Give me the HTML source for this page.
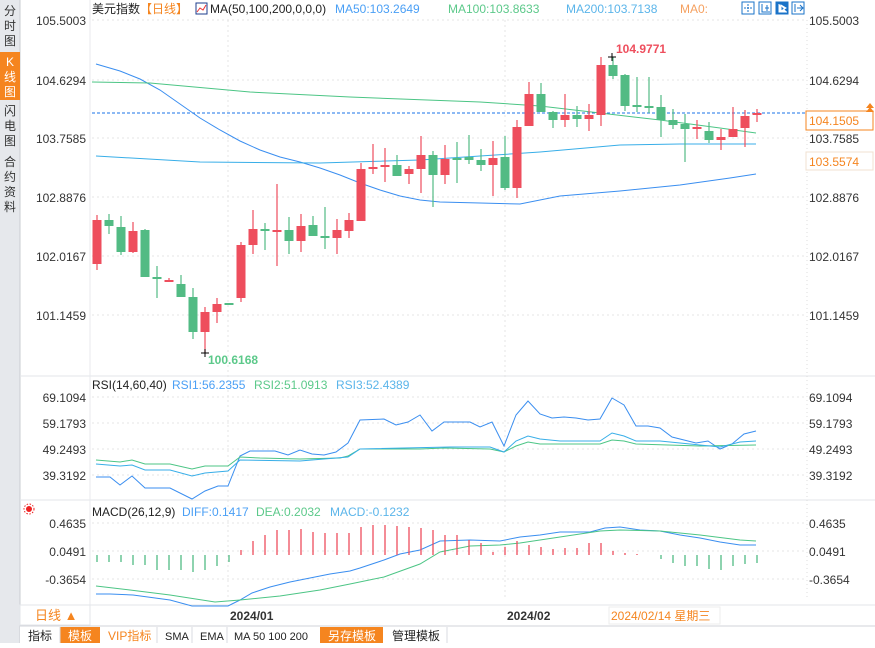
<!DOCTYPE html>
<html><head><meta charset="utf-8"><style>
body{margin:0;width:875px;height:643px;overflow:hidden;background:#fff;font-family:"Liberation Sans","Noto Sans CJK SC",sans-serif;}
svg text{font-family:"Liberation Sans","Noto Sans CJK SC",sans-serif;}
</style></head><body>
<svg id="s" width="875" height="643" xmlns="http://www.w3.org/2000/svg" font-size="12">
<rect x="0" y="0" width="20" height="643" fill="#e6e8ec"/>
<line x1="20" y1="0" x2="20" y2="643" stroke="#c9ccd2"/>
<rect x="0" y="52" width="20" height="48" fill="#f5851f"/>
<g font-size="12" fill="#333" text-anchor="middle">
<text x="10" y="15">分</text><text x="10" y="30">时</text><text x="10" y="45">图</text>
<text x="10" y="66" fill="#fff">K</text><text x="10" y="81" fill="#fff">线</text><text x="10" y="96" fill="#fff">图</text>
<text x="10" y="115">闪</text><text x="10" y="130">电</text><text x="10" y="145">图</text>
<text x="10" y="166">合</text><text x="10" y="181">约</text><text x="10" y="196">资</text><text x="10" y="211">料</text>
</g>
<line x1="20" y1="376" x2="875" y2="376" stroke="#e3e6ea"/>
<line x1="20" y1="500" x2="875" y2="500" stroke="#e3e6ea"/>
<line x1="20" y1="605" x2="875" y2="605" stroke="#e3e6ea"/>
<line x1="90" y1="0" x2="90" y2="625" stroke="#e8eaee"/>
<line x1="807" y1="20" x2="807" y2="600" stroke="#ddd" stroke-dasharray="1,3"/>
<g stroke="#e4e4e4" stroke-dasharray="2,3">
<line x1="92" y1="20" x2="805" y2="20"/><line x1="92" y1="80" x2="805" y2="80"/><line x1="92" y1="138" x2="805" y2="138"/><line x1="92" y1="197" x2="805" y2="197"/><line x1="92" y1="256" x2="805" y2="256"/><line x1="92" y1="315" x2="805" y2="315"/>
<line x1="92" y1="397" x2="805" y2="397"/><line x1="92" y1="423" x2="805" y2="423"/><line x1="92" y1="449" x2="805" y2="449"/><line x1="92" y1="475" x2="805" y2="475"/>
<line x1="92" y1="523" x2="805" y2="523"/><line x1="92" y1="551" x2="805" y2="551"/><line x1="92" y1="579" x2="805" y2="579"/>
<line x1="228" y1="20" x2="228" y2="600"/><line x1="505" y1="20" x2="505" y2="600"/>
</g>
<g fill="#333" text-anchor="end" font-size="12">
<text x="86" y="25">105.5003</text><text x="86" y="85">104.6294</text><text x="86" y="143">103.7585</text><text x="86" y="202">102.8876</text><text x="86" y="261">102.0167</text><text x="86" y="320">101.1459</text>
<text x="86" y="402">69.1094</text><text x="86" y="428">59.1793</text><text x="86" y="454">49.2493</text><text x="86" y="480">39.3192</text>
<text x="86" y="528">0.4635</text><text x="86" y="556">0.0491</text><text x="86" y="584">-0.3654</text>
</g>
<g fill="#333" font-size="12">
<text x="809" y="25">105.5003</text><text x="809" y="85">104.6294</text><text x="809" y="143">103.7585</text><text x="809" y="202">102.8876</text><text x="809" y="261">102.0167</text><text x="809" y="320">101.1459</text>
<text x="809" y="402">69.1094</text><text x="809" y="428">59.1793</text><text x="809" y="454">49.2493</text><text x="809" y="480">39.3192</text>
<text x="809" y="528">0.4635</text><text x="809" y="556">0.0491</text><text x="809" y="584">-0.3654</text>
</g>
<rect x="806" y="111" width="67" height="19" fill="#fff" stroke="#f5851f"/>
<text x="809" y="125" fill="#f5851f">104.1505</text>
<rect x="806" y="152" width="67" height="18" fill="#fff" stroke="#f0e0d0"/>
<text x="809" y="166" fill="#f5851f">103.5574</text>
<path d="M866,108 l4,-5 l4,5 z M866,112 l4,-5 l4,5 z" fill="#f5851f"/>
<text x="92" y="13" fill="#222">美元指数</text>
<text x="140" y="13" fill="#f5851f">【日线】</text>
<rect x="196" y="3" width="11" height="11" fill="#fff" stroke="#1c3c8c"/>
<path d="M197,12 l3,-4 l3,2 l3,-5" stroke="#e33" fill="none"/>
<text x="210" y="13" fill="#222">MA(50,100,200,0,0,0)</text>
<text x="335" y="13" fill="#4a9ff5">MA50:103.2649</text>
<text x="448" y="13" fill="#5cc98a">MA100:103.8633</text>
<text x="566" y="13" fill="#5bb5ea">MA200:103.7138</text>
<text x="680" y="13" fill="#f5a05f">MA0:</text>
<g fill="none" stroke="#1a73c8">
<rect x="742" y="2" width="12" height="12"/><rect x="759" y="2" width="12" height="12"/><rect x="776" y="2" width="12" height="12" fill="#1a73c8"/><rect x="792" y="2" width="12" height="12"/>
</g>
<path d="M748,4 v8 M744,8 h8" stroke="#1a73c8" stroke-dasharray="2,1"/>
<path d="M762,4 v8 h8 M767,5 v6 M765,8 h4" stroke="#1a73c8" fill="none"/>
<path d="M779,4 v8 h8 M781,5 l5,3 l-5,3 z" stroke="#fff" fill="#fff"/>
<path d="M795,4 v8 M797,8 h6 M800,5 l3,3 l-3,3" stroke="#1a73c8" fill="none"/>
<text x="92" y="389" fill="#222">RSI(14,60,40)</text>
<text x="172" y="389" fill="#4a9ff5">RSI1:56.2355</text>
<text x="254" y="389" fill="#5cc98a">RSI2:51.0913</text>
<text x="336" y="389" fill="#5bb5ea">RSI3:52.4389</text>
<text x="92" y="516" fill="#222">MACD(26,12,9)</text>
<text x="182" y="516" fill="#4a9ff5">DIFF:0.1417</text>
<text x="256" y="516" fill="#5cc98a">DEA:0.2032</text>
<text x="330" y="516" fill="#5bb5ea">MACD:-0.1232</text>
<circle cx="29" cy="509" r="3" fill="#e22"/><circle cx="29" cy="509" r="5" fill="none" stroke="#e22" stroke-dasharray="1.5,1.5"/>
<rect x="20" y="605" width="70" height="20" fill="#fff" stroke="#e3e6ea"/>
<text x="35" y="620" fill="#f5851f" font-size="13">日线 ▲</text>
<text x="230" y="620" fill="#333" font-weight="bold">2024/01</text>
<text x="507" y="620" fill="#333" font-weight="bold">2024/02</text>
<rect x="609" y="607" width="111" height="17" fill="#fff" stroke="#eee"/>
<text x="611" y="620" fill="#f5851f">2024/02/14 星期三</text>
<rect x="20" y="626" width="855" height="17" fill="#fff"/>
<line x1="20" y1="626" x2="875" y2="626" stroke="#d0d3d8"/>
<rect x="60" y="627" width="40" height="16" fill="#f5851f"/>
<rect x="320" y="627" width="63" height="16" fill="#f5851f"/>
<g font-size="12">
<text x="28" y="640" fill="#222">指标</text>
<text x="68" y="640" fill="#fff">模板</text>
<text x="108" y="640" fill="#f5851f">VIP指标</text>
<text x="165" y="640" fill="#222" font-size="11">SMA</text>
<text x="200" y="640" fill="#222" font-size="11">EMA</text>
<text x="234" y="640" fill="#222" font-size="11">MA 50 100 200</text>
<text x="328" y="640" fill="#fff">另存模板</text>
<text x="392" y="640" fill="#222">管理模板</text>
</g>
<g stroke="#d8dbe0"><line x1="60" y1="627" x2="60" y2="643"/><line x1="157" y1="627" x2="157" y2="643"/><line x1="192" y1="627" x2="192" y2="643"/><line x1="227" y1="627" x2="227" y2="643"/><line x1="447" y1="627" x2="447" y2="643"/></g>
<line x1="92" y1="113" x2="805" y2="113" stroke="#1a73e8" stroke-dasharray="3,2"/>
<polyline fill="none" stroke="#3a8ef0" points="96,64 120,71 140,79 160,90 180,104 200,118 220,130 240,141 260,150 280,157 300,162 320,168 340,175 360,183 380,190 400,196 420,200 440,202 480,203 520,204 560,196 620,191 680,185 730,178 756,174"/>
<polyline fill="none" stroke="#4cc585" points="92,82 150,83 250,92 350,97 480,102 540,106 600,113 660,120 720,128 756,133"/>
<polyline fill="none" stroke="#38aee8" points="96,156 200,162 320,163 420,160 480,156 540,152 620,145 680,144 756,144"/>
<polyline fill="none" stroke="#3a8ef0" points="96,477 110,477 120,485 132,476 145,488 170,488 192,499 205,491 218,486 228,486 240,456 250,451 275,451 288,455 300,450 312,454 324,455 336,452 348,443 360,420 384,419 396,425 408,422 420,415 432,431 444,422 470,422 480,427 492,422 504,446 516,415 528,401 540,414 552,418 564,417 576,418 588,420 600,419 612,398 624,405 636,426 648,426 660,428 672,437 684,440 696,443 708,441 720,449 732,444 744,434 756,431"/>
<polyline fill="none" stroke="#4cc585" points="96,460 120,462 132,460 145,464 170,464 192,469 205,466 228,466 240,457 260,458 300,459 340,458 348,456 360,449 420,449 444,448 490,449 504,452 516,446 528,442 540,444 600,444 612,440 624,441 636,444 700,446 756,445"/>
<polyline fill="none" stroke="#38aee8" points="96,464 120,466 132,465 145,470 170,470 192,476 205,473 228,471 240,460 300,461 348,457 360,449 450,447 490,447 504,452 516,441 528,436 540,439 560,441 600,441 612,433 624,436 636,441 660,441 700,445 720,447 740,442 756,441"/>
<polyline fill="none" stroke="#3a8ef0" points="96,594 110,594 133,595 170,600 192,606 228,606 240,600 252,593 270,587 290,582 310,578 330,574 350,571 360,568 384,560 400,554 420,550 440,541 470,540 500,541 520,537 540,535 560,532 590,532 605,528 620,527 640,530 660,531 680,535 700,538 720,542 740,545 756,545"/>
<polyline fill="none" stroke="#4cc585" points="96,586 130,590 170,595 215,602 240,600 280,596 320,590 350,584 384,577 420,564 440,552 470,546 500,545 520,543 560,537 600,531 620,530 660,531 700,535 740,540 756,541"/>
<g id="c"></g>
<text x="208" y="364" fill="#5cc98a" font-weight="bold">100.6168</text>
<path d="M201,353 h8 M205,349 v8" stroke="#000"/>
<text x="616" y="53" fill="#ee4e5d" font-weight="bold">104.9771</text>
<path d="M608,57 h8 M612,53 v8" stroke="#000"/>
</svg>
<script>
var R="#ee4e5d",G="#52bb84";
var d=[[97,R,220,264,215,270],[109,G,220,226,214,234],[121,G,227,252,216,255],[133,R,231,252,222,253],[145,G,230,277,229,277],[157,G,277,279,266,298],[169,R,280,281,278,282],[181,G,284,297,275,297],[193,G,297,332,288,339],[205,R,312,332,307,353],[217,R,304,312,298,323],[229,G,303,305,303,305],[241,R,245,298,242,302],[253,R,229,245,210,254],[265,G,229,231,223,250],[277,R,230,231,184,266],[289,G,230,241,217,254],[301,R,226,241,214,252],[313,G,225,236,216,236],[325,G,236,238,207,249],[337,R,230,238,219,254],[349,R,220,231,213,238],[361,R,169,221,163,221],[373,R,167,169,144,174],[385,R,165,167,148,182],[397,G,165,176,155,176],[409,R,169,174,166,184],[421,R,155,169,136,193],[433,G,155,175,151,207],[445,R,159,175,145,184],[457,G,158,160,142,183],[469,G,157,160,135,164],[481,G,160,165,149,171],[493,R,158,165,141,196],[505,G,157,188,136,190],[517,R,127,188,120,198],[529,R,94,126,82,126],[541,G,94,112,83,112],[553,G,112,120,111,128],[565,R,115,120,94,127],[577,G,115,119,106,127],[589,R,115,119,104,131],[601,R,65,115,57,126],[613,G,65,76,57,79],[625,G,75,106,74,111],[637,G,105,107,77,112],[649,G,106,107,77,113],[661,G,107,120,95,137],[673,G,120,125,109,129],[685,G,124,129,114,162],[697,R,127,129,120,139],[709,G,131,140,122,143],[721,R,137,140,129,150],[733,R,129,137,107,137],[745,R,116,128,110,147],[757,R,113,115,109,122]];
var h="";
d.forEach(function(c){h+='<line x1="'+c[0]+'" y1="'+c[4]+'" x2="'+c[0]+'" y2="'+c[5]+'" stroke="'+c[1]+'" stroke-width="1.2"/>';
h+='<rect x="'+(c[0]-4.5)+'" y="'+c[2]+'" width="9" height="'+Math.max(2,c[3]-c[2])+'" fill="'+c[1]+'"/>';});
var m=[[97,562],[109,562],[121,562],[133,565],[145,565],[157,570],[169,570],[181,570],[193,572],[205,570],[217,566],[229,562],[241,550],[253,541],[265,535],[277,530],[289,530],[301,529],[313,532],[325,533],[337,533],[349,533],[361,527],[373,525],[385,525],[397,526],[409,527],[421,528],[433,530],[445,535],[457,535],[469,540],[481,543],[493,552],[505,547],[517,541],[529,545],[541,547],[553,549],[565,548],[577,548],[589,543],[601,543],[613,551],[625,553],[637,554],[661,559],[673,563],[685,566],[697,566],[709,569],[721,570],[733,566],[745,564],[757,563]];
m.forEach(function(b){h+='<line x1="'+b[0]+'" y1="555" x2="'+b[0]+'" y2="'+b[1]+'" stroke="'+(b[1]<555?R:G)+'" stroke-width="1.3"/>';});
document.getElementById("c").innerHTML=h;
</script>
</body></html>
